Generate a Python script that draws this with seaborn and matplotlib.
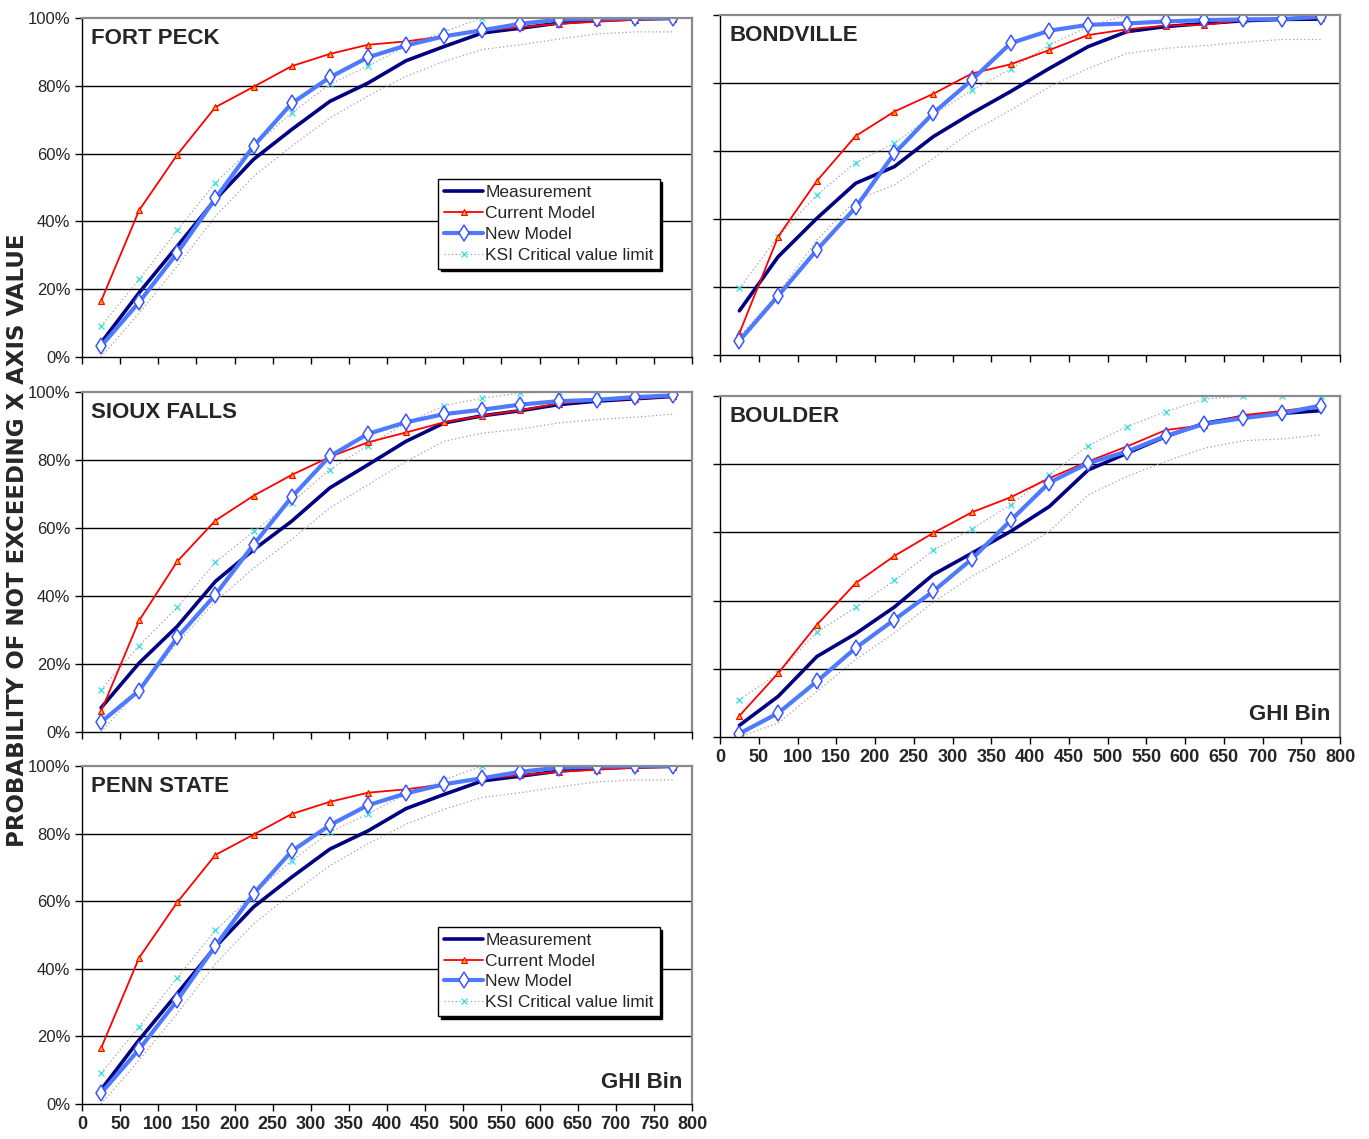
import matplotlib
matplotlib.use("Agg")
import matplotlib.pyplot as plt
import seaborn as sns
from matplotlib.ticker import FuncFormatter

sns.set_style("white")
plt.rcParams['font.family'] = ['Liberation Sans', 'DejaVu Sans']

ghi_bins = list(range(25, 800, 50))
x_ticks = list(range(0, 801, 50))
y_ticks = [0, 20, 40, 60, 80, 100]

# Fort Peck (Penn State shows the same curves)
fp_meas = [4.2, 19.0, 32.7, 46.5, 58.3, 67.1, 75.4, 80.8, 87.4, 91.6, 95.6, 97.0, 98.5, 99.3, 99.7, 99.9]
fp_cur = [16.5, 43.3, 59.7, 73.7, 79.7, 85.8, 89.4, 92.1, 93.1, 94.6, 96.3, 97.3, 98.3, 98.9, 99.5, 99.7]
fp_new = [3.2, 16.2, 30.7, 46.8, 62.2, 74.8, 82.5, 88.4, 91.9, 94.6, 96.4, 98.3, 99.5, 99.8, 100, 100]
fp_hi = [9.1, 22.9, 37.4, 51.4, 62.2, 72.0, 80.4, 85.8, 91.7, 96.0, 100, 100, 100, 100, 100, 100]
fp_lo = [0.0, 13.0, 26.8, 41.5, 53.3, 62.2, 70.5, 77.0, 82.8, 87.2, 90.7, 92.1, 93.8, 95.3, 95.9, 95.9]

# Bondville
bv_meas = [13.0, 28.9, 40.2, 50.5, 55.4, 64.2, 71.1, 77.5, 84.3, 90.7, 95.1, 96.6, 97.5, 98.3, 98.7, 98.8]
bv_cur = [6.4, 34.8, 51.2, 64.4, 71.6, 76.8, 82.8, 85.5, 89.7, 94.1, 95.8, 96.9, 97.1, 98.5, 98.8, 99.0]
bv_new = [4.2, 17.4, 30.9, 43.4, 59.3, 71.1, 80.9, 91.7, 95.4, 97.1, 97.5, 98.1, 98.5, 98.7, 98.8, 99.5]
bv_hi = [19.6, 34.8, 47.1, 56.6, 62.3, 70.6, 77.9, 84.1, 91.2, 96.6, 100, 100, 100, 100, 100, 100]
bv_lo = [5.4, 18.1, 33.8, 45.6, 50.0, 57.8, 65.7, 72.0, 78.9, 84.3, 88.7, 90.2, 91.0, 92.0, 92.8, 92.8]

# Sioux Falls
sf_meas = [7.1, 20.3, 31.1, 44.3, 53.6, 62.0, 71.8, 78.6, 85.5, 90.9, 93.0, 94.5, 96.3, 97.3, 98.0, 98.7]
sf_cur = [6.1, 32.8, 50.2, 62.2, 69.5, 75.6, 80.9, 85.2, 88.1, 91.1, 93.0, 94.6, 96.6, 97.5, 98.0, 98.7]
sf_new = [2.9, 12.2, 27.8, 40.4, 55.1, 69.1, 81.1, 87.7, 91.1, 93.5, 94.8, 96.3, 97.3, 97.7, 98.5, 99.0]
sf_hi = [12.5, 25.4, 36.7, 49.9, 59.0, 67.5, 77.2, 84.2, 90.9, 96.0, 98.2, 99.7, 100, 100, 100, 100]
sf_lo = [0.0, 12.5, 26.2, 38.4, 48.2, 56.6, 65.9, 72.7, 79.6, 85.5, 87.9, 89.1, 90.9, 91.9, 92.6, 93.5]

# Boulder
bo_meas = [3.4, 11.9, 23.6, 30.3, 38.1, 47.6, 53.9, 60.3, 67.6, 78.3, 83.2, 88.1, 92.0, 93.9, 94.9, 95.7]
bo_cur = [6.2, 18.7, 32.9, 45.1, 53.1, 59.8, 65.9, 70.3, 75.9, 80.8, 85.2, 90.0, 91.5, 94.4, 95.6, 97.1]
bo_new = [1.0, 7.0, 16.3, 26.1, 34.4, 42.7, 52.2, 63.5, 74.6, 80.3, 83.7, 88.3, 91.8, 93.5, 94.9, 97.2]
bo_hi = [10.9, 18.7, 30.8, 38.0, 45.9, 54.7, 61.0, 68.1, 76.9, 85.4, 91.0, 95.4, 99.1, 100, 100, 100]
bo_lo = [0.0, 4.1, 13.4, 22.7, 30.5, 39.5, 47.1, 53.4, 60.3, 71.0, 76.4, 80.8, 84.7, 86.9, 87.4, 88.6]

W, H = 1369, 1139
fig = plt.figure(figsize=(W / 100, H / 100), dpi=100)


def px_axes(left, top, right, bottom):
    return fig.add_axes([left / W, 1 - bottom / H, (right - left) / W, (bottom - top) / H])


def draw_panel(ax, title, meas, cur, new, hi, lo, show_x, show_y, legend, ghi):
    sns.lineplot(x=ghi_bins, y=lo, ax=ax, color='#a0a0a0', linewidth=0.9, linestyle=(0, (1, 2)))
    sns.lineplot(x=ghi_bins, y=hi, ax=ax, color='#a0a0a0', linewidth=0.9, linestyle=(0, (1, 2)),
                 marker='x', markersize=4, markeredgecolor='#30e0e0', markeredgewidth=0.9,
                 label='KSI Critical value limit')
    sns.lineplot(x=ghi_bins, y=meas, ax=ax, color='#000080', linewidth=2.6, label='Measurement')
    sns.lineplot(x=ghi_bins, y=cur, ax=ax, color='#ff0000', linewidth=1.3, marker='^', markersize=5,
                 markerfacecolor='#ffa500', markeredgecolor='#ff0000', markeredgewidth=0.8,
                 label='Current Model')
    sns.lineplot(x=ghi_bins, y=new, ax=ax, color='#4d7aff', linewidth=3, marker='d', markersize=8,
                 markerfacecolor='white', markeredgecolor='#3a55ff', markeredgewidth=1.1,
                 label='New Model')
    if ax.get_legend():
        ax.get_legend().remove()

    ax.set_xlim(0, 800)
    ax.set_ylim(0, 100)
    ax.set_xticks(x_ticks)
    ax.set_yticks(y_ticks)
    for y in [20, 40, 60, 80]:
        ax.axhline(y, color='black', linewidth=1.0, zorder=0)
    for side in ['top', 'right']:
        ax.spines[side].set_color('#8a8a8a')
        ax.spines[side].set_linewidth(1.6)
    for side in ['left', 'bottom']:
        ax.spines[side].set_color('black')
        ax.spines[side].set_linewidth(1.0)
    ax.tick_params(axis='both', direction='out', length=5, width=1, color='black',
                   bottom=True, left=True)
    ax.set_xlabel('')
    ax.set_ylabel('')

    if show_x:
        ax.set_xticklabels([str(v) for v in x_ticks], fontsize=13, fontweight='bold')
    else:
        ax.set_xticklabels([])
    if show_y:
        ax.yaxis.set_major_formatter(FuncFormatter(lambda v, p: f'{v:.0f}%'))
        for lab in ax.get_yticklabels():
            lab.set_fontsize(12)
    else:
        ax.set_yticklabels([])

    ax.text(0.015, 0.94, title, transform=ax.transAxes, ha='left', va='center',
            fontsize=16, fontweight='bold')
    if ghi:
        ax.text(0.985, 0.065, 'GHI Bin', transform=ax.transAxes, ha='right', va='center',
                fontsize=16, fontweight='bold')

    if legend:
        handles, labels = ax.get_legend_handles_labels()
        order = ['Measurement', 'Current Model', 'New Model', 'KSI Critical value limit']
        hl = {l: h for h, l in zip(handles, labels)}
        leg = ax.legend([hl[o] for o in order], order, loc='upper left',
                        bbox_to_anchor=(0.57, 0.55), fontsize=12.5, frameon=True,
                        fancybox=False, shadow={'color': 'black', 'alpha': 1},
                        edgecolor='black', framealpha=1, handlelength=2.2,
                        handletextpad=0.15, labelspacing=0.32, borderpad=0.35)
        leg.get_frame().set_linewidth(1.0)


ax_fp = px_axes(82, 18, 692, 357)
ax_bv = px_axes(720, 15, 1340, 355)
ax_sf = px_axes(82, 392, 692, 732)
ax_bo = px_axes(720, 396, 1340, 737)
ax_ps = px_axes(82, 766, 692, 1104)

draw_panel(ax_fp, 'FORT PECK', fp_meas, fp_cur, fp_new, fp_hi, fp_lo, False, True, True, False)
draw_panel(ax_bv, 'BONDVILLE', bv_meas, bv_cur, bv_new, bv_hi, bv_lo, False, False, False, False)
draw_panel(ax_sf, 'SIOUX FALLS', sf_meas, sf_cur, sf_new, sf_hi, sf_lo, False, True, False, False)
draw_panel(ax_bo, 'BOULDER', bo_meas, bo_cur, bo_new, bo_hi, bo_lo, True, False, False, True)
draw_panel(ax_ps, 'PENN STATE', fp_meas, fp_cur, fp_new, fp_hi, fp_lo, True, True, True, True)

fig.text(0.013, 0.526, 'PROBABILITY OF NOT EXCEEDING X AXIS VALUE', rotation=90,
         ha='center', va='center', fontsize=16.5, fontweight='bold', family='DejaVu Sans')

fig.savefig('out.png', dpi=100)
